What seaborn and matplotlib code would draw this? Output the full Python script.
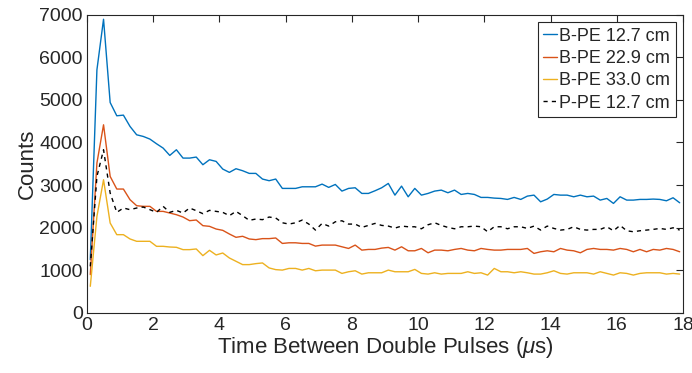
import numpy as np
import pandas as pd
import seaborn as sns
import matplotlib.pyplot as plt

# time axis: 0.1 .. 17.9 us in 0.2 us bins
t = np.round(np.arange(0.1, 18.0, 0.2), 1)

bpe_127 = [1245, 5708, 6898, 4940, 4628, 4643, 4377, 4181, 4142, 4080,
           3970, 3868, 3696, 3829, 3633, 3633, 3657, 3477, 3594, 3555,
           3375, 3297, 3383, 3336, 3273, 3273, 3140, 3101, 3140,
           2920, 2920, 2920, 2958, 2958, 2958, 3021, 2944, 3013, 2857,
           2920, 2935, 2802, 2802, 2865, 2935, 3037, 2762, 2974, 2723,
           2920, 2762, 2802, 2857, 2880, 2818, 2880, 2778, 2802, 2778,
           2708, 2708, 2692, 2684, 2661, 2708,
           2661, 2739, 2762, 2605, 2669, 2778, 2762, 2762, 2723, 2762,
           2723, 2739, 2645, 2684, 2567, 2723, 2645, 2645, 2661, 2661,
           2669, 2661, 2629, 2700, 2582]

bpe_229 = [893, 3516, 4416, 3202, 2905, 2905, 2654, 2513, 2498, 2498,
           2380, 2380, 2341, 2302, 2247, 2161, 2177, 2044, 2028, 1965,
           1934, 1848, 1770, 1794, 1731, 1715, 1739, 1739, 1754,
           1626, 1641, 1641, 1626, 1626, 1563, 1587, 1587, 1587, 1547,
           1508, 1587, 1469, 1485, 1485, 1516, 1532, 1469, 1547, 1453,
           1453, 1508, 1406, 1469, 1469, 1453, 1485, 1508, 1469, 1453,
           1508, 1485, 1469, 1469, 1485, 1485,
           1485, 1508, 1391, 1430, 1453, 1430, 1508, 1469, 1453, 1406,
           1485, 1508, 1485, 1485, 1469, 1508, 1485, 1430, 1485, 1430,
           1485, 1469, 1508, 1485, 1430]

bpe_330 = [618, 2262, 3124, 2106, 1832, 1832, 1731, 1676, 1676, 1676,
           1558, 1558, 1542, 1535, 1480, 1480, 1496, 1339, 1464, 1355,
           1401, 1284, 1206, 1128, 1128, 1151, 1167, 1050, 1010,
           999, 1038, 1038, 999, 1038, 983, 999, 999, 999, 921,
           960, 983, 905, 936, 936, 936, 999, 960, 960, 960,
           1015, 921, 905, 936, 905, 921, 921, 921, 960, 921,
           936, 882, 1038, 960, 960, 936,
           960, 936, 905, 905, 936, 983, 921, 905, 936, 936,
           936, 905, 960, 921, 882, 936, 921, 882, 921, 936,
           936, 936, 905, 921, 905]

ppe_127 = [1088, 3202, 3829, 2811, 2357, 2459, 2420, 2459, 2482, 2420,
           2357, 2498, 2357, 2404, 2341, 2459, 2396, 2326, 2404, 2380,
           2357, 2279, 2380, 2279, 2169, 2200, 2185, 2247, 2224,
           2112, 2081, 2112, 2175, 2081, 1940, 2097, 2034, 2135, 2159,
           2081, 2081, 2003, 2050, 2097, 2050, 2034, 1987, 2034, 2018,
           2018, 1971, 2065, 2112, 2050, 2003, 1971, 2018, 2018, 2034,
           2018, 1901, 2018, 2018, 1971, 2018,
           2018, 1979, 2034, 1940, 2034, 1979, 1940, 1956, 2018, 1956,
           1940, 1956, 1956, 2018, 1924, 2050, 1924, 1901, 1924, 1940,
           1956, 1979, 1956, 1994, 1940]

labels = ["B-PE 12.7 cm", "B-PE 22.9 cm", "B-PE 33.0 cm", "P-PE 12.7 cm"]
series = [bpe_127, bpe_229, bpe_330, ppe_127]
colors = ["#0072BD", "#D95319", "#EDB120", "black"]

df = pd.concat([pd.DataFrame({"t": t, "counts": s, "run": lab})
                for lab, s in zip(labels, series)], ignore_index=True)

sns.set_style("white")
plt.rcParams['font.family'] = ['Liberation Sans', 'DejaVu Sans']
plt.rcParams['mathtext.fontset'] = 'custom'
plt.rcParams['mathtext.it'] = 'Liberation Sans:italic'

fig = plt.figure(figsize=(6.92, 3.73), dpi=100)
ax = fig.add_axes([0.1257, 0.162, 0.8613, 0.798])

sns.lineplot(data=df, x="t", y="counts", hue="run", style="run",
             palette=dict(zip(labels, colors)),
             dashes={labels[0]: "", labels[1]: "", labels[2]: "",
                     labels[3]: (3, 3)},
             linewidth=1.0, ax=ax, legend=True)

ax.set_xlim(0, 18)
ax.set_ylim(0, 7000)
ax.set_xticks(np.arange(0, 19, 2))
ax.set_yticks(np.arange(0, 7001, 1000))
ax.tick_params(direction="in", length=5, width=0.8, colors="#262626",
               labelsize=14, top=True, right=True, pad=3)
for sp in ax.spines.values():
    sp.set_color("#262626")
    sp.set_linewidth(0.8)
ax.set_xlabel(r"Time Between Double Pulses ($\mu$s)", fontsize=16,
              color="#262626", labelpad=1)
ax.set_ylabel("Counts", fontsize=16, color="#262626", labelpad=1)

leg = ax.legend(loc="upper right", fontsize=13, handlelength=0.75,
                handletextpad=0.15, borderpad=0.3, labelspacing=0.3,
                frameon=True, fancybox=False, framealpha=1,
                borderaxespad=0.4)
leg.get_frame().set_edgecolor("#262626")
leg.get_frame().set_linewidth(0.8)
for txt in leg.get_texts():
    txt.set_color("#262626")

fig.savefig("out.png", dpi=100)
